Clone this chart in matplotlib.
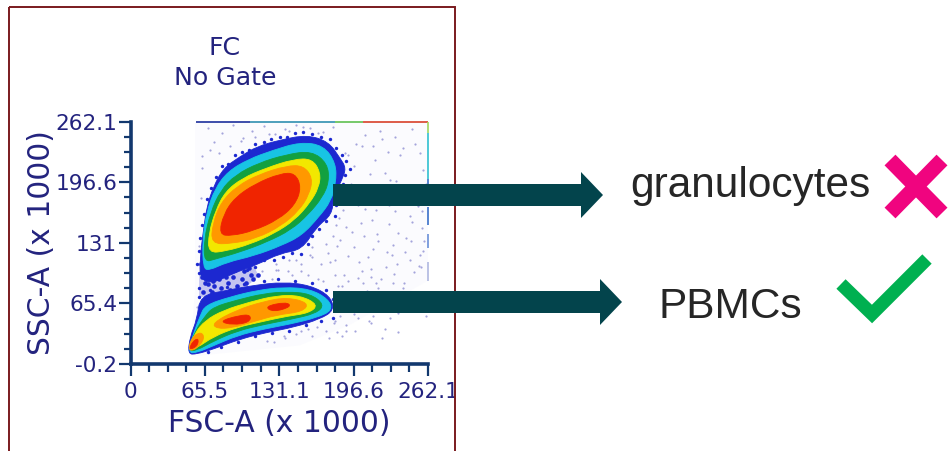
import matplotlib
matplotlib.use("Agg")
import matplotlib.pyplot as plt
from matplotlib.patches import Polygon, Rectangle, PathPatch
from matplotlib.path import Path
from matplotlib.transforms import Bbox

# density bands, in FSC-A / SSC-A units
gran_blue_x = [61.4, 61.4, 64.3, 67.3, 73.1, 81.9, 96.6, 111.3, 131.9, 155.4, 174.4, 184.7, 190, 186.2, 178.9, 177.4, 164.2, 151, 131.9, 111.3, 90.7, 73.1]
gran_blue_y = [90.9, 116.2, 145, 170.3, 191.9, 211.8, 224.4, 235.2, 242.4, 247.8, 240.6, 222.6, 211.8, 199.1, 181.1, 161.3, 148.6, 123.4, 119.8, 107.1, 98.1, 87.3]
gran_cyan_x = [64, 63.5, 67, 74.5, 86, 104, 125, 149.5, 170, 181, 181, 176.5, 166, 151, 133, 109, 85, 69]
gran_cyan_y = [104, 134.2, 164, 190, 208.5, 221.5, 231, 240, 236.5, 217, 195.5, 176, 159, 139, 128, 117, 110, 101]
gran_green_x = [65, 64.8, 70.5, 79.5, 92.5, 113, 137, 159.5, 173.5, 175, 169, 156.5, 141.5, 120.5, 96.6, 75]
gran_green_y = [110, 134.2, 164, 188, 204.5, 217.5, 226.5, 230.5, 217, 197.3, 180, 161.5, 145, 132, 121, 113.5]
gran_yellow_x = [68.5, 69, 75, 83.5, 98.5, 119.5, 143.6, 160, 167.5, 166, 158, 144.6, 126.5, 105.4, 84]
gran_yellow_y = [120, 141.4, 166, 186.5, 201, 212, 221.5, 222, 207, 191, 174, 155.5, 141, 129.5, 122]
gran_orange_x = [71, 72.5, 80, 94, 113, 137.7, 152.5, 160.5, 157.5, 148.5, 133, 111.5, 89]
gran_orange_y = [130, 152.2, 175.5, 192.5, 205, 214.5, 214.5, 201, 183.5, 166, 149.5, 136, 130]
gran_red_x = [78, 82, 92, 110, 131.9, 145, 150.5, 145, 130, 108.4, 89]
gran_red_y = [140, 162, 180, 195, 206, 206.5, 191, 172, 156, 144, 138.5]

pbmc_blue_x = [50.5, 52.6, 58.4, 61.4, 84.9, 108.4, 134.8, 158.3, 175.9, 179.5, 167.1, 143.6, 120.1, 96.6, 73.1, 58.4]
pbmc_blue_y = [10.5, 29.6, 47.6, 74, 79.5, 85, 88.5, 85, 73.5, 58, 48.5, 39.5, 34, 26.8, 16, 10.5]
pbmc_cyan_x = [50.6, 55.5, 61.4, 65.8, 87.8, 111.3, 134.8, 158.3, 174.4, 178, 164.2, 140.7, 117.2, 93.7, 73.1, 58.4]
pbmc_cyan_y = [12, 33.2, 52, 63.5, 72.5, 79.5, 83, 81, 70, 58, 50, 43, 37.6, 30.4, 19.6, 12]
pbmc_green_x = [50.7, 57, 65.8, 73.1, 93.7, 117.2, 137.7, 158.3, 171, 163.5, 140.7, 117.2, 93.7, 73.1, 58.4]
pbmc_green_y = [14, 35.5, 52, 61.5, 69, 76, 78, 76, 64, 54.5, 48, 42.5, 35.5, 24.5, 14.5]
pbmc_yellow_x = [51, 56.5, 65.8, 81.9, 105.4, 128.9, 149.5, 165.5, 157.5, 137.7, 117.2, 93.7, 73.1, 58.4]
pbmc_yellow_y = [15.5, 33, 47, 58, 67, 74, 74, 64, 55, 51.5, 46, 39.5, 29.5, 17]
pbmc_orange_blobs = [
    ([50.8, 53.5, 62, 65.5, 58.4], [13.8, 28, 35, 27.8, 16]),
    ([72, 93, 117.2, 138, 157, 152, 129, 108, 90, 76], [44, 58, 67.5, 72, 66, 56.5, 53, 45.5, 39, 38]),
]
pbmc_red_blobs = [
    ([51.5, 54.5, 60, 59], [15, 24, 28, 19]),
    ([78, 96, 106, 105, 90], [46, 52.5, 53, 45, 42]),
    ([118, 137, 142, 126], [62, 67, 62, 56]),
]

bridge_x = [60.5, 60.5, 97, 113, 107]
bridge_y = [110, 72, 78, 95, 110]

haze_x = [52, 57, 57, 262, 262, 193, 149, 61]
haze_y = [9, 80, 262, 262, 90, 42, 20, 9]

# scattered events outside the main populations
speck_x = [182, 188, 195, 201, 207, 214, 221, 228, 235, 243, 250, 257, 184, 192, 199, 206, 212, 219, 226, 233, 241, 248, 255,
           186, 193, 203, 210, 217, 224, 231, 238, 246, 253, 259, 189, 197, 204, 215, 222, 229, 237, 244, 251, 258,
           183, 191, 200, 208, 216, 223, 232, 240, 247, 256, 194, 202, 211, 220, 227, 236, 245, 252, 260,
           68, 74, 81, 90, 99, 107, 118, 127, 136, 146, 158, 170, 178, 63, 70, 78, 88, 97, 110, 122, 140, 152, 165,
           62, 64, 60, 66, 59, 63, 68, 180, 190, 200, 212, 224, 236, 186, 198, 210, 222, 150, 165, 176, 130, 118, 142, 158,
           112, 125, 139, 128, 146, 160, 172, 120, 135, 150]
speck_y = [128, 96, 143, 110, 168, 124, 92, 151, 108, 136, 99, 147, 158, 117, 187, 138, 103, 178, 121, 165, 87, 154, 118,
           205, 176, 152, 192, 141, 207, 129, 183, 112, 171, 133, 228, 214, 236, 221, 243, 199, 226, 194, 238, 210,
           84, 72, 93, 79, 88, 70, 97, 82, 76, 105, 62, 68, 58, 64, 73, 55, 68, 62, 52,
           255, 240, 250, 258, 244, 252, 257, 249, 254, 258, 255, 251, 256, 225, 232, 228, 236, 241, 245, 249, 252, 256, 250,
           180, 150, 128, 100, 62, 212, 90, 46, 42, 50, 44, 38, 34, 30, 36, 46, 28, 100, 92, 110, 102, 115, 96, 118,
           84, 92, 100, 108, 112, 126, 130, 25, 30, 35]
speck2 = [(180, 112), (185, 134), (190, 148), (197, 126), (204, 101), (209, 116), (213, 156), (218, 133), (225, 105), (230, 118),
          (236, 142), (242, 121), (247, 133), (254, 106), (258, 122), (181, 150), (187, 167), (194, 195), (200, 172), (205, 181),
          (211, 205), (216, 167), (222, 188), (228, 172), (234, 198), (240, 178), (246, 160), (252, 186), (257, 165), (260, 195),
          (192, 226), (199, 238), (207, 248), (214, 236), (220, 252), (227, 229), (233, 246), (240, 234), (248, 254), (255, 228),
          (180, 96), (186, 84), (192, 90), (198, 78), (205, 88), (212, 94), (218, 82), (225, 78), (231, 88), (238, 74),
          (184, 66), (190, 60), (197, 54), (203, 60), (208, 72), (214, 52), (222, 58), (229, 50), (185, 52), (179, 44),
          (156, 38), (164, 40), (172, 36), (182, 34), (190, 36), (146, 32), (136, 28), (126, 24), (160, 30), (175, 28),
          (168, 108), (174, 120), (178, 138), (160, 116), (150, 108), (140, 112), (128, 102), (116, 100), (156, 96), (170, 90)]

# dark blue events along the jagged edge of the two clouds
rim = [(60, 98), (59, 108), (60, 122), (61, 136), (63, 150), (65, 162), (67, 178), (71, 190), (75, 202), (81, 214), (86, 216),
       (92, 226), (98, 229), (104, 232), (110, 238), (118, 240), (124, 243), (132, 246), (138, 245), (145, 250), (152, 251), (160, 249),
       (168, 246), (176, 243), (181, 234), (186, 226), (190, 220), (193, 211), (189, 204), (187, 195), (183, 188), (181, 172),
       (180, 160), (172, 155), (166, 146), (160, 138), (156, 130), (150, 119), (142, 120), (134, 116), (126, 112), (118, 112),
       (110, 105), (103, 102), (60, 82), (60, 72), (70, 80), (85, 83), (100, 86), (118, 90), (130, 92), (145, 90), (160, 88),
       (172, 80), (178, 70), (181, 60), (178, 50), (168, 46), (155, 42), (140, 36), (125, 33), (110, 30), (95, 24), (80, 18), (68, 13)]
bridge_dots = [(62, 108), (66, 88), (70, 96), (74, 84), (78, 92), (82, 100), (86, 88), (90, 94), (94, 84), (98, 92), (102, 88),
               (106, 96), (64, 78), (68, 86), (72, 78), (76, 100), (80, 82), (84, 94), (88, 80), (92, 102), (96, 80), (100, 100),
               (104, 104), (63, 94), (73, 90), (108, 92), (112, 96), (70, 104), (81, 106), (90, 108)]
bridge_cyan_x = [61.5, 62, 70, 80, 74]
bridge_cyan_y = [108, 92, 96, 104, 108]

top_edge = [(58, 105, "#1c2f9c"), (105, 180, "#2f8fb0"), (180, 205, "#5fc050"), (205, 262, "#d8402a")]
right_edge = [(262, 250, "#9fd860"), (250, 200, "#30c0d0"), (200, 180, "#3a70c8"), (170, 150, "#3a70c8"), (140, 125, "#6a90d8"), (110, 90, "#b0b8e0")]

x_ticks = [0, 65.5, 131.1, 196.6, 262.1]
x_tick_labels = ["0", "65.5", "131.1", "196.6", "262.1"]
y_ticks = [-0.2, 65.4, 131, 196.6, 262.1]
y_tick_labels = ["-0.2", "65.4", "131", "196.6", "262.1"]
x_minor = [16.4, 32.8, 49.1, 81.9, 98.3, 114.7, 147.5, 163.9, 180.2, 213, 229.4, 245.8]
y_minor = [16.2, 32.6, 49, 81.8, 98.2, 114.6, 147.4, 163.8, 180.2, 213, 229.4, 245.8]

NAVY = "#23237e"
AXIS = "#12386e"
BLUE, CYAN, GREEN, YELLOW, ORANGE, RED = "#1c28d0", "#18c4e4", "#12a040", "#f2e800", "#ff9800", "#f02400"


def blob(axes, xs, ys, col, z):
    # closed outline drawn with quadratic curves so the bands come out round
    pts = list(zip(xs, ys))
    n = len(pts)
    mid = lambda a, b: ((a[0] + b[0]) / 2, (a[1] + b[1]) / 2)
    verts = [mid(pts[-1], pts[0])]
    codes = [Path.MOVETO]
    for i in range(n):
        verts += [pts[i], mid(pts[i], pts[(i + 1) % n])]
        codes += [Path.CURVE3, Path.CURVE3]
    axes.add_patch(PathPatch(Path(verts, codes), fc=col, ec=col, lw=0.6, zorder=z))


fig = plt.figure(figsize=(9.5, 4.51), dpi=100)
W, H = 950.0, 451.0

# whole figure overlay in pixels, for frame, arrows and notes
over = fig.add_axes([0, 0, 1, 1], zorder=3)
over.set_xlim(0, W)
over.set_ylim(H, 0)
over.axis("off")
over.patch.set_alpha(0)

ax = fig.add_axes([130.5 / W, 1 - 364 / H, 297.5 / W, 242.3 / H], zorder=2)
ax.patch.set_alpha(0)
ax.set_xlim(0, 262.1)
ax.set_ylim(-0.2, 262.1)

ax.fill(haze_x, haze_y, color="#fbfbfe", lw=0, zorder=1)
ax.scatter(speck_x, speck_y, s=2.5, c="#a4a4dc", lw=0, zorder=1.5)
ax.scatter([p[0] for p in speck2], [p[1] for p in speck2], s=2.5, c="#a4a4dc", lw=0, zorder=1.5)

ax.fill(bridge_x, bridge_y, color="#c4c4f0", lw=0, zorder=2)
ax.scatter([p[0] for p in bridge_dots], [p[1] for p in bridge_dots], s=11, c=BLUE, lw=0, zorder=2.1)
blob(ax, bridge_cyan_x, bridge_cyan_y, "#30a8e8", 2.2)
ax.scatter([p[0] for p in rim], [p[1] for p in rim], s=6, c=BLUE, lw=0, zorder=2.5)

bands = [
    (gran_blue_x, gran_blue_y, BLUE), (gran_cyan_x, gran_cyan_y, CYAN), (gran_green_x, gran_green_y, GREEN),
    (gran_yellow_x, gran_yellow_y, YELLOW), (gran_orange_x, gran_orange_y, ORANGE), (gran_red_x, gran_red_y, RED),
    (pbmc_blue_x, pbmc_blue_y, BLUE), (pbmc_cyan_x, pbmc_cyan_y, CYAN), (pbmc_green_x, pbmc_green_y, GREEN),
    (pbmc_yellow_x, pbmc_yellow_y, YELLOW),
]
for i, (bx, by, col) in enumerate(bands):
    blob(ax, bx, by, col, 3 + i * 0.1)
for bx, by in pbmc_orange_blobs:
    blob(ax, bx, by, ORANGE, 4.2)
for bx, by in pbmc_red_blobs:
    blob(ax, bx, by, RED, 4.3)

for x0, x1, col in top_edge:
    ax.plot([x0, x1], [261.5, 261.5], color=col, lw=1.2, zorder=5, solid_capstyle="butt", clip_on=False)
for y0, y1, col in right_edge:
    ax.plot([262, 262], [y0, y1], color=col, lw=1.2, zorder=5, solid_capstyle="butt", clip_on=False)

for side in ["top", "right"]:
    ax.spines[side].set_visible(False)
for side in ["left", "bottom"]:
    ax.spines[side].set_linewidth(2.6)
    ax.spines[side].set_color(AXIS)

ax.set_xticks(x_ticks, x_tick_labels)
ax.set_yticks(y_ticks, y_tick_labels)
ax.set_xticks(x_minor, minor=True)
ax.set_yticks(y_minor, minor=True)
ax.tick_params(which="major", length=8.6, width=1.6, color=AXIS, labelcolor=NAVY, labelsize=15.6)
ax.tick_params(which="minor", length=5.4, width=1.6, color=AXIS)
ax.tick_params(axis="x", which="major", pad=4.5)
ax.tick_params(axis="y", which="major", pad=1)
ax.set_xlabel("FSC-A (x 1000)", fontsize=21.4, color=NAVY, labelpad=5)
ax.set_ylabel("SSC-A (x 1000)", fontsize=21.4, color=NAVY, labelpad=-0.5)

# last x label runs into the frame in the original
clip = Bbox([[0, 0], [455, H]])
for lbl in ax.get_xticklabels():
    lbl.set_clip_on(True)
    lbl.set_clip_box(clip)

over.add_patch(Rectangle((8.5, 6.5), 446.5, 460, fill=False, ec="#7a1a1e", lw=1.4, zorder=1))
over.text(225, 48, "FC", fontsize=18.2, color=NAVY, ha="center", va="center")
over.text(225, 78, "No Gate", fontsize=18.2, color=NAVY, ha="center", va="center")

ARROW = "#03444c"
for tip, cy in [(603, 195), (622, 302)]:
    base = tip - 22
    pts = [(333, cy - 11), (base, cy - 11), (base, cy - 23), (tip, cy), (base, cy + 23), (base, cy + 11), (333, cy + 11)]
    over.add_patch(Polygon(pts, closed=True, fc=ARROW, ec="none", zorder=2))

over.text(630, 186, "granulocytes", fontsize=30.5, family="Liberation Sans", color="#262626", ha="left", va="center")
over.text(659, 307, "PBMCs", fontsize=30.5, family="Liberation Sans", color="#262626", ha="left", va="center")

over.plot([890, 942], [160, 213], color="#f0047f", lw=11, solid_capstyle="butt", zorder=2)
over.plot([942, 890], [160, 213], color="#f0047f", lw=11, solid_capstyle="butt", zorder=2)
over.plot([841, 872, 927], [284, 314, 259], color="#00b050", lw=9.5, solid_capstyle="butt", solid_joinstyle="miter", zorder=2)

fig.savefig("out.png", dpi=100)
